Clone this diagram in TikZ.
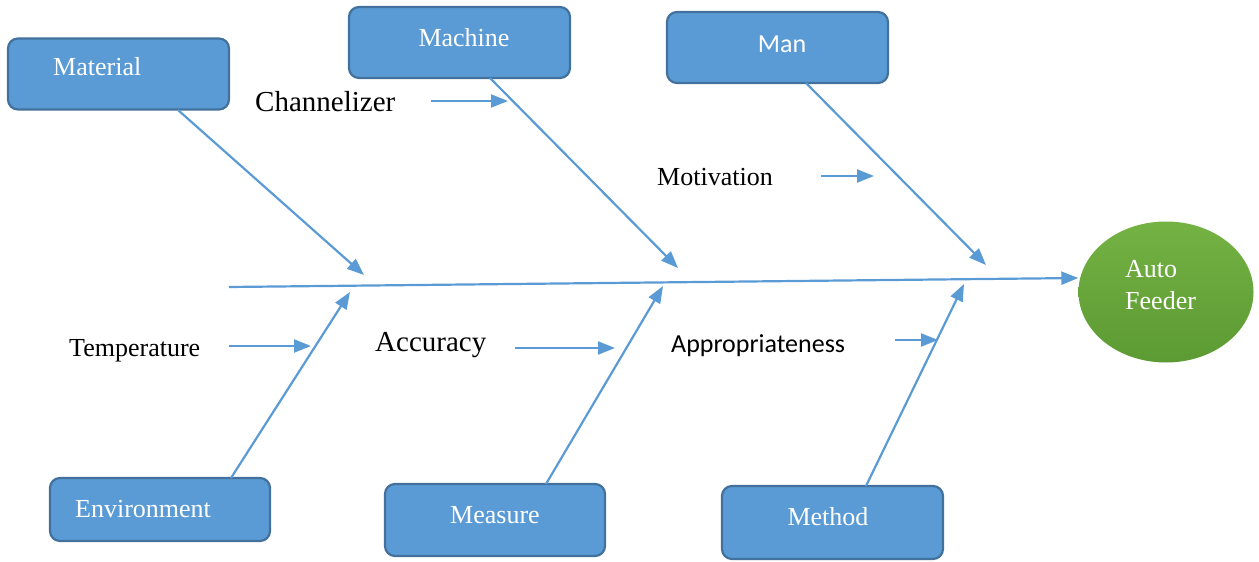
\documentclass[tikz,border=0pt]{standalone}
\usepackage{fontspec}
\setmainfont{Liberation Serif}
\newfontfamily\carlitofont{Carlito}
\usetikzlibrary{arrows.meta,shapes.geometric}
\definecolor{boxfill}{HTML}{5B9BD5}
\definecolor{boxedge}{HTML}{41719C}
\definecolor{linec}{HTML}{5B9BD5}
\definecolor{greentop}{HTML}{74B244}
\definecolor{greenbot}{HTML}{5C9A33}
\tikzset{
  catbox/.style={draw=boxedge, fill=boxfill, line width=2.2pt, rounded corners=10pt,
    minimum width=#1, minimum height=71pt, inner sep=0pt},
  boxtext/.style={text=white, font=\fontsize{26}{32}\selectfont, anchor=base, inner sep=0pt},
  causetext/.style={text=black, font=\fontsize{26}{32}\selectfont, anchor=base west, inner sep=0pt},
  bigcause/.style={text=black, font=\fontsize{29}{34}\selectfont, anchor=base west, inner sep=0pt},
  bone/.style={draw=linec, line width=2.2pt, -{Triangle[length=17pt,width=13pt]}},
}
\begin{document}
\begin{tikzpicture}[x=1pt,y=-1pt]
\useasboundingbox (0,0) rectangle (1259,562);
% category boxes
\node[catbox=221pt] (mat) at (118.5,74) {};
\node[catbox=221pt] (mach) at (459.5,42.5) {};
\node[catbox=221pt] (man) at (777.5,47.5) {};
\node[catbox=220pt, minimum height=63pt] (env) at (160,509.5) {};
\node[catbox=220pt, minimum height=72pt] (meas) at (495,520) {};
\node[catbox=221pt, minimum height=73pt] (meth) at (832.5,522.5) {};
% box texts
\node[boxtext, anchor=base west] (matt) at (53,75) {Material};
\node[boxtext] (macht) at (464,46) {Machine};
\node[boxtext, font=\carlitofont\fontsize{26}{32}\selectfont] (mant) at (782,52) {Man};
\node[boxtext, anchor=base west] (envt) at (75,517) {Environment};
\node[boxtext] (meast) at (495,523) {Measure};
\node[boxtext] (metht) at (828,525) {Method};
% effect
\node[ellipse, minimum width=175pt, minimum height=141pt, top color=greentop, bottom color=greenbot, inner sep=0pt] (eff) at (1166,292) {};
\node[text=white, font=\fontsize{26}{32}\selectfont, anchor=base west, inner sep=0pt] (efft) at (1125,277) {Auto};
\node[text=white, font=\fontsize{26}{32}\selectfont, anchor=base west, inner sep=0pt] (efft2) at (1125,309) {Feeder};
% spine
\coordinate (spst) at (229,287);
\draw[bone] (spst) -- (eff.west |- 0,278);
% bones
\coordinate (b1s) at (178,110);  \coordinate (b1e) at (364,275);
\coordinate (b2s) at (490,78);   \coordinate (b2e) at (678,268);
\coordinate (b3s) at (806,83);   \coordinate (b3e) at (986,265);
\coordinate (b4s) at (231,478);  \coordinate (b4e) at (350,292);
\coordinate (b5s) at (546,484);  \coordinate (b5e) at (663,286);
\coordinate (b6s) at (866,486);  \coordinate (b6e) at (964,284);
\draw[bone] (b1s) -- (b1e);
\draw[bone] (b2s) -- (b2e);
\draw[bone] (b3s) -- (b3e);
\draw[bone] (b4s) -- (b4e);
\draw[bone] (b5s) -- (b5e);
\draw[bone] (b6s) -- (b6e);
% causes
\node[bigcause] (chan) at (255,111) {Channelizer};
\coordinate (chs) at (431,101); \coordinate (che) at (508,101);
\draw[bone] (chs) -- (che);
\node[causetext] (mot) at (657,185) {Motivation};
\coordinate (mos) at (821,176); \coordinate (moe) at (874,176);
\draw[bone] (mos) -- (moe);
\node[causetext] (temp) at (69,356) {Temperature};
\coordinate (tes) at (229,346); \coordinate (tee) at (311,346);
\draw[bone] (tes) -- (tee);
\node[bigcause] (acc) at (375,351) {Accuracy};
\coordinate (acs) at (515,348); \coordinate (ace) at (615,348);
\draw[bone] (acs) -- (ace);
\node[causetext, font=\carlitofont\fontsize{26}{32}\selectfont] (app) at (671,352) {Appropriateness};
\coordinate (aps) at (895,340); \coordinate (ape) at (938,340);
\draw[bone] (aps) -- (ape);
\end{tikzpicture}
\end{document}
